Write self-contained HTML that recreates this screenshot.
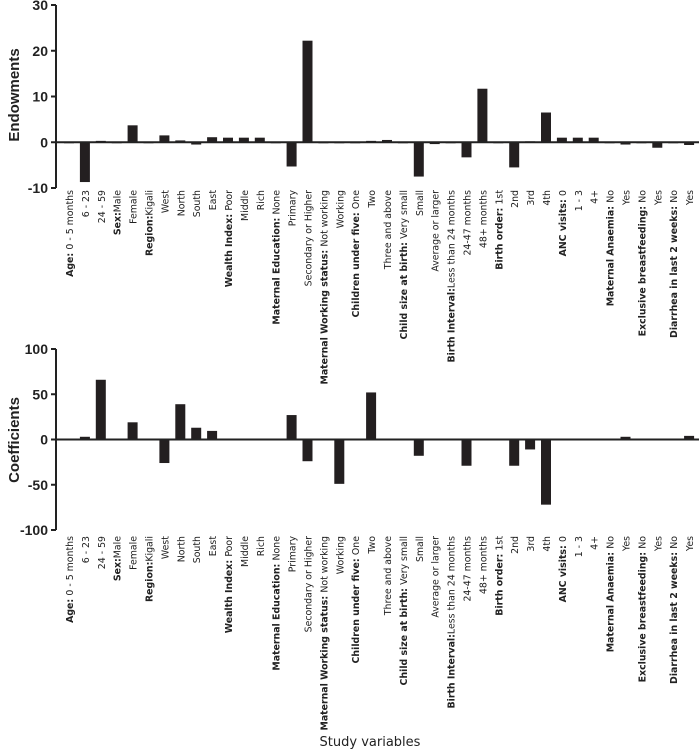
<!DOCTYPE html>
<html><head><meta charset="utf-8"><style>
body{margin:0;background:#fff;}
svg{display:block;font-family:"Liberation Sans",sans-serif;}
</style></head><body>
<svg id="chart" width="699" height="751"></svg>
<script>
const categories=[
["Age: ","0 - 5 months"],["","6 - 23"],["","24 - 59"],["Sex:","Male"],["","Female"],
["Region:","Kigali"],["","West"],["","North"],["","South"],["","East"],
["Wealth Index: ","Poor"],["","Middle"],["","Rich"],
["Maternal Education: ","None"],["","Primary"],["","Secondary or Higher"],
["Maternal Working status: ","Not working"],["","Working"],
["Children under five: ","One"],["","Two"],["","Three and above"],
["Child size at birth: ","Very small"],["","Small"],["","Average or larger"],
["Birth Interval:","Less than 24 months"],["","24-47 months"],["","48+ months"],
["Birth order: ","1st"],["","2nd"],["","3rd"],["","4th"],
["ANC visits: ","0"],["","1 - 3"],["","4+"],
["Maternal Anaemia: ","No"],["","Yes"],
["Exclusive breastfeeding: ","No"],["","Yes"],
["Diarrhea in last 2 weeks: ","No"],["","Yes"]];
const endowments=[0,-8.7,0.3,0,3.7,0,1.5,0.4,-0.5,1.1,1,1,1,0,-5.3,22.2,0,-0.1,0,0.3,0.5,0,-7.5,-0.4,0,-3.3,11.7,0,-5.5,0.2,6.5,1,1,1,0,-0.5,0,-1.2,0,-0.6];
const coefficients=[0,3,66,0,19,0,-26,39,13,9.5,-1,-1,-1,0,27,-24,0,-49,0,52,-0.5,0,-18,-1,0,-29,0,0,-29,-11,-72,-1,-1,-1,0,3,0,-1,0,4];
const endowTicks=[-10,0,10,20,30];
const coefTicks=[-100,-50,0,50,100];

const NS="http://www.w3.org/2000/svg";
const svg=document.getElementById('chart');
function mk(tag,attrs,parent){const e=document.createElementNS(NS,tag);for(const k in attrs)e.setAttribute(k,attrs[k]);(parent||svg).appendChild(e);return e;}
const xPos=i=>69+i*15.9;

function panel(name,vals,ticks,yTop,yBot,title,titleY,labelTop){
  const vmin=ticks[0],vmax=ticks[ticks.length-1];
  const y=v=>yTop+(vmax-v)/(vmax-vmin)*(yBot-yTop);
  const g=mk('g',{});
  
  
  const ax=mk('line',{x1:56,x2:56,y1:yTop,y2:yBot,stroke:'#222','stroke-width':2},g);
  
  
  ticks.forEach(t=>{
    mk('line',{x1:51,x2:56,y1:y(t),y2:y(t),stroke:'#222','stroke-width':2},g);
    const tl=mk('text',{x:48,y:y(t)+5,'text-anchor':'end','font-size':14,'font-weight':'bold',fill:'#222'},g);
    tl.textContent=t;
    
    
  });
  vals.forEach((v,i)=>{
    const y0=y(0),y1=y(v);
    const r=mk('rect',{x:xPos(i)-5,y:Math.min(y0,y1),width:10,height:Math.max(Math.abs(y1-y0),1),fill:'#231f20'},g);
    
    
  });
  const zl=mk('line',{x1:56,x2:699,y1:y(0),y2:y(0),stroke:'#222','stroke-width':2},g);
  
  
  categories.forEach((c,i)=>{
    const t=mk('text',{transform:`translate(${xPos(i)+4},${labelTop}) rotate(-90)`,'text-anchor':'end','font-size':9.4,'font-family':'"DejaVu Sans",sans-serif',fill:'#222'},g);
    
    
    if(c[0]){const b=mk('tspan',{'font-weight':'bold'},t);b.textContent=c[0];}
    const s=mk('tspan',{},t);s.textContent=c[1];
  });
  const tt=mk('text',{transform:`translate(19,${titleY}) rotate(-90)`,'text-anchor':'middle','font-size':15,'font-weight':'bold',fill:'#222'},g);
  tt.textContent=title;
  
  
}
panel('endowments',endowments,endowTicks,5,188,'Endowments',95,190);
panel('coefficients',coefficients,coefTicks,349,530,'Coefficients',440,536);
const xt=mk('text',{x:370,y:746,'text-anchor':'middle','font-size':13,'font-family':'"DejaVu Sans",sans-serif',fill:'#222'});
xt.textContent='Study variables';


</script>
</body></html>
